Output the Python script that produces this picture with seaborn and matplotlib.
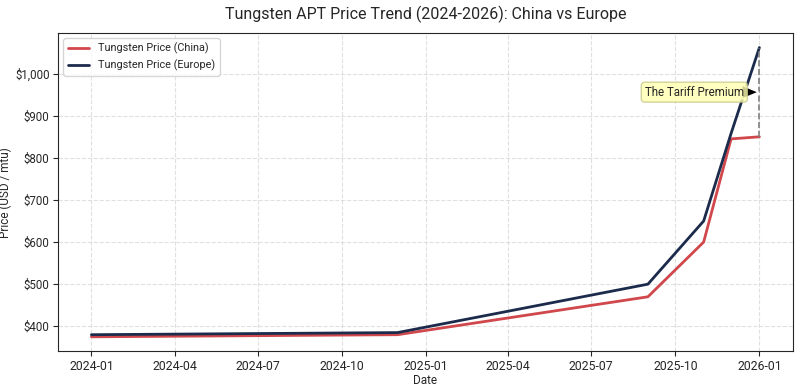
import pandas as pd
import numpy as np
import matplotlib.pyplot as plt
import matplotlib.ticker as mticker
import seaborn as sns

# Data
dates = ['2024-01-01', '2024-12-01', '2025-09-01', '2025-11-01', '2025-12-01', '2026-01-01']
china_price = [375, 380, 470, 600, 845, 850]
europe_price = [380, 385, 500, 650, 858, 1062]

df = pd.DataFrame({'Date': pd.to_datetime(dates), 'China': china_price, 'Europe': europe_price})

sns.set_style('ticks')
plt.rcParams['font.family'] = ['Roboto', 'DejaVu Sans']

fig, ax = plt.subplots(figsize=(8, 3.89), dpi=100)
sns.lineplot(data=df, x='Date', y='China', ax=ax, color='#d0474c', linewidth=2,
             label='Tungsten Price (China)')
sns.lineplot(data=df, x='Date', y='Europe', ax=ax, color='#1c2b4b', linewidth=2,
             label='Tungsten Price (Europe)')

# tariff gap
last = df['Date'].iloc[-1]
ax.vlines(last, china_price[-1], europe_price[-1], colors='gray', linestyles='--', linewidth=1.2)
mid = (china_price[-1] + europe_price[-1]) / 2
ax.annotate('The Tariff Premium', xy=(last, mid), xytext=(pd.Timestamp('2025-12-15'), mid),
            ha='right', va='center', fontsize=8.3,
            arrowprops=dict(facecolor='black', shrink=0.05, width=1, headwidth=10, headlength=12),
            bbox=dict(boxstyle='round,pad=0.3', fc='#ffffb0', ec='#c8c88a', alpha=0.8))

ax.yaxis.set_major_formatter(mticker.StrMethodFormatter('${x:,.0f}'))
ax.grid(True, linestyle='--', alpha=0.6)
ax.set_title('Tungsten APT Price Trend (2024-2026): China vs Europe', fontsize=11.5, pad=10)
ax.set_xlabel('Date', fontsize=8.5, labelpad=1)
ax.set_ylabel('Price (USD / mtu)', fontsize=8.5, labelpad=2)
ax.tick_params(axis='x', labelsize=8.8, pad=2.5)
ax.tick_params(axis='y', labelsize=8.3, pad=2.5)
ax.legend(loc='upper left', fontsize=7.8)

fig.subplots_adjust(left=0.0725, right=0.991, top=0.915, bottom=0.097)
plt.savefig('out.png', dpi=100)
